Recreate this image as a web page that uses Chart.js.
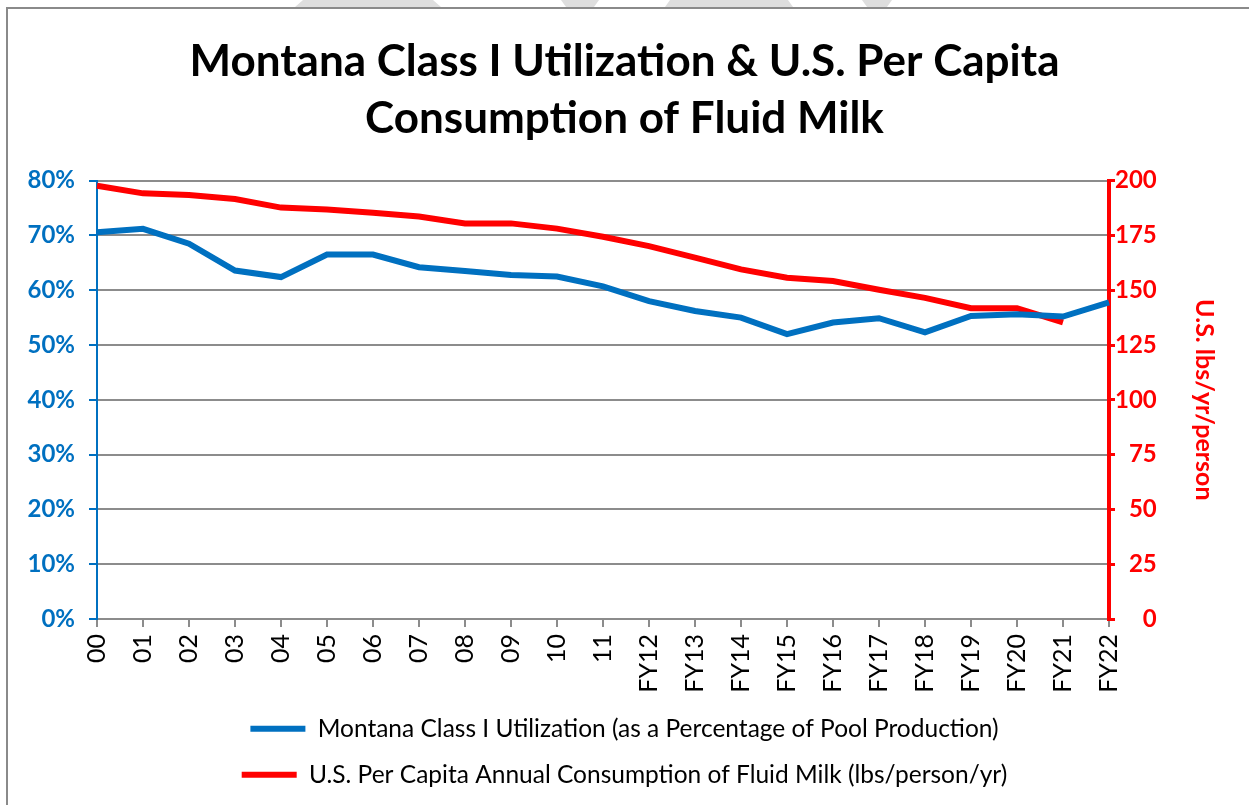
<!DOCTYPE html>
<html>
<head>
<meta charset="utf-8">
<script src="https://cdn.jsdelivr.net/npm/chart.js@4"></script>
<style>
  body { margin: 0; background: #fff; }
  canvas { display: block; }
</style>
</head>
<body>
<canvas id="milkChart" width="1249" height="805"></canvas>
<script>
// Fiscal years along the x axis
const years = ['00', '01', '02', '03', '04', '05', '06', '07', '08', '09', '10', '11',
    'FY12', 'FY13', 'FY14', 'FY15', 'FY16', 'FY17', 'FY18', 'FY19', 'FY20', 'FY21', 'FY22'];

// Montana Class I utilization, percent of pool production
const classIUtil = [70.6, 71.2, 68.5, 63.6, 62.4, 66.5, 66.5, 64.2, 63.5, 62.8, 62.5, 60.7,
    58.0, 56.2, 55.0, 52.0, 54.1, 54.9, 52.3, 55.3, 55.6, 55.2, 57.8];

// U.S. per capita fluid milk consumption, lbs/person/yr (no value yet for FY22)
const perCapita = [197.7, 194.2, 193.4, 191.6, 187.7, 186.8, 185.4, 183.6, 180.5, 180.5, 178.1, 174.4,
    170.1, 164.9, 159.5, 155.7, 154.2, 150.2, 146.5, 141.8, 141.8, 135.3, null];

const leftTicks = [0, 10, 20, 30, 40, 50, 60, 70, 80];
const rightTicks = [0, 25, 50, 75, 100, 125, 150, 175, 200];

const FONT = "Lato, 'Open Sans', sans-serif";
const BLUE = '#0070C0';
const RED = '#FF0000';
const GRID = '#8c8c8c';

// Frame around the chart plus the grey shapes peeking in at the top edge
const framePlugin = {
    id: 'frame',
    beforeDraw(chart) {
        const c = chart.ctx;
        c.save();
        c.fillStyle = '#dedede';
        const shapes = [
            [[303, 0], [433, 0], [441, 7], [295, 7]],
            [[561, 0], [599, 0], [594, 7], [566, 7]],
            [[670, 0], [788, 0], [793, 7], [665, 7]],
            [[862, 0], [892, 0], [887, 7], [867, 7]]
        ];
        shapes.forEach(pts => {
            c.beginPath();
            c.moveTo(pts[0][0], pts[0][1]);
            pts.slice(1).forEach(p => c.lineTo(p[0], p[1]));
            c.closePath();
            c.fill();
        });
        c.strokeStyle = '#8a8a8a';
        c.lineWidth = 2;
        c.beginPath();
        c.moveTo(7, 805);
        c.lineTo(7, 8);
        c.lineTo(1249, 8);
        c.stroke();
        c.restore();
    }
};

const ctx = document.getElementById('milkChart').getContext('2d');

new Chart(ctx, {
    type: 'line',
    data: {
        labels: years,
        datasets: [{
            label: 'Montana Class I Utilization (as a Percentage of Pool Production)',
            data: classIUtil,
            borderColor: BLUE,
            backgroundColor: BLUE,
            borderWidth: 6,
            pointRadius: 0,
            yAxisID: 'y'
        }, {
            label: 'U.S. Per Capita Annual Consumption of Fluid Milk (lbs/person/yr)',
            data: perCapita,
            borderColor: RED,
            backgroundColor: RED,
            borderWidth: 6,
            pointRadius: 0,
            yAxisID: 'y2'
        }]
    },
    options: {
        responsive: false,
        animation: false,
        layout: { padding: { left: 10, right: 10, top: 0, bottom: 8 } },
        plugins: {
            title: {
                display: true,
                text: ['Montana Class I Utilization & U.S. Per Capita', 'Consumption of Fluid Milk'],
                color: '#000',
                font: { family: FONT, size: 44, weight: 'bold', lineHeight: 1.28 },
                padding: { top: 34, bottom: 34 }
            },
            legend: {
                position: 'bottom',
                labels: {
                    color: '#000',
                    font: { family: FONT, size: 24.5 },
                    boxWidth: 55,
                    boxHeight: 6,
                    padding: 21.5,
                    generateLabels(chart) {
                        return Chart.defaults.plugins.legend.labels.generateLabels(chart)
                            .map(item => Object.assign(item, { lineWidth: 0 }));
                    }
                }
            },
            tooltip: { enabled: false }
        },
        scales: {
            x: {
                grid: { drawOnChartArea: false, drawTicks: true, tickLength: 8, color: GRID, lineWidth: 2 },
                border: { color: GRID, width: 2 },
                ticks: { color: '#000', font: { family: FONT, size: 25 }, minRotation: 90, maxRotation: 90, autoSkip: false, padding: 7 },
                afterFit(scale) { scale.height = 76; }
            },
            y: {
                position: 'left',
                min: 0,
                max: 80,
                afterBuildTicks(scale) { scale.ticks = leftTicks.map(v => ({ value: v })); },
                grid: { color: GRID, lineWidth: 2, tickColor: BLUE, tickLength: 8 },
                border: { color: BLUE, width: 2 },
                ticks: {
                    color: BLUE,
                    font: { family: FONT, size: 24, weight: 'bold' },
                    padding: 14,
                    callback: v => v + '%'
                },
                afterFit(scale) { scale.width = 87; }
            },
            y2: {
                position: 'right',
                min: 0,
                max: 200,
                afterBuildTicks(scale) { scale.ticks = rightTicks.map(v => ({ value: v })); },
                grid: { drawOnChartArea: false, tickColor: RED, tickLength: 6, lineWidth: 3 },
                border: { color: RED, width: 4 },
                ticks: {
                    color: RED,
                    font: { family: FONT, size: 24, weight: 'bold' },
                    padding: 0,
                    // right-align the numbers against the axis as in the original
                    callback: v => String(v).padStart(3, '\u2007')
                },
                title: {
                    display: true,
                    text: 'U.S. lbs/yr/person',
                    color: RED,
                    font: { family: FONT, size: 25, weight: 'bold' },
                    padding: { top: 20, bottom: 0 }
                },
                afterFit(scale) { scale.width = 130; }
            }
        }
    },
    plugins: [framePlugin]
});
</script>
</body>
</html>
